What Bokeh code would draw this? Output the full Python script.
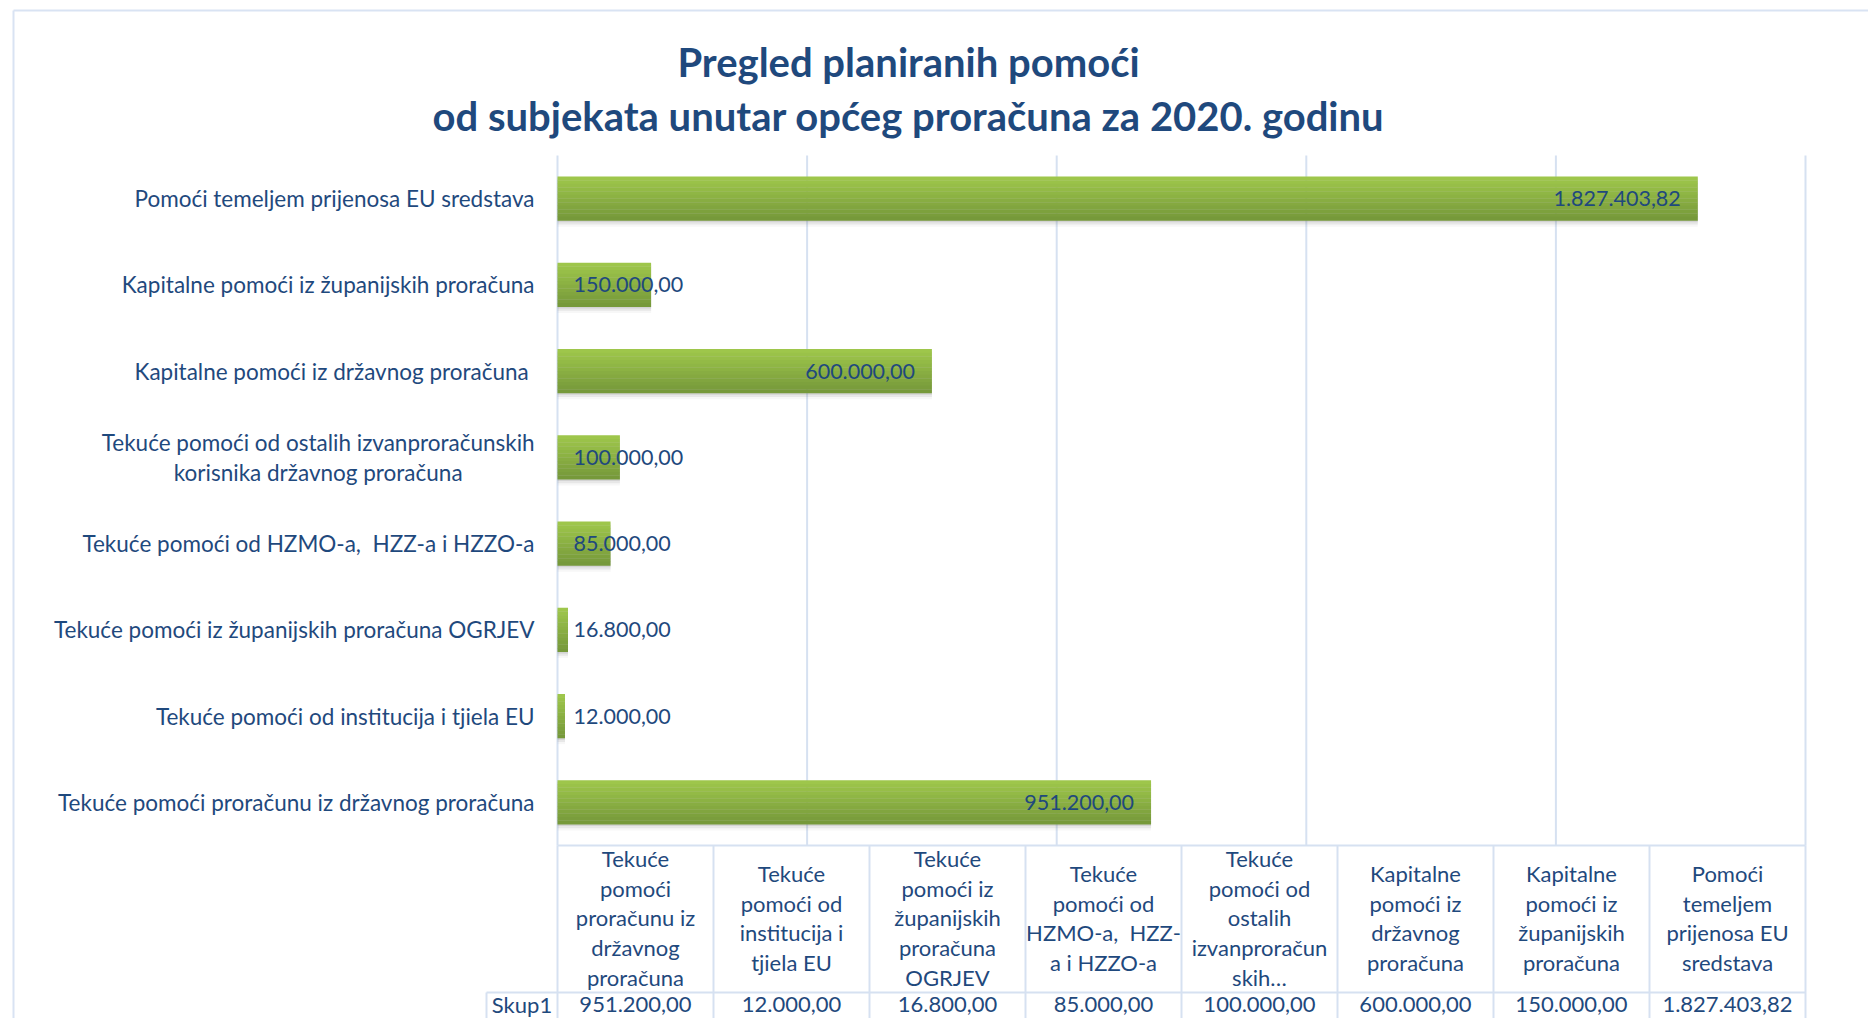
from bokeh.plotting import figure
from bokeh.models import Range1d
from bokeh.embed import file_html
from bokeh.resources import INLINE
from bokeh.core.properties import value

# ---------------- data ----------------
categories = [
    "Tekuće pomoći proračunu iz državnog proračuna",
    "Tekuće pomoći od institucija i tjiela EU",
    "Tekuće pomoći iz županijskih proračuna OGRJEV",
    "Tekuće pomoći od HZMO-a, \u00a0HZZ-a i HZZO-a",
    "Tekuće pomoći od ostalih izvanproračunskih\nkorisnika državnog proračuna",
    "Kapitalne pomoći iz državnog proračuna\u00a0",
    "Kapitalne pomoći iz županijskih proračuna",
    "Pomoći temeljem prijenosa EU sredstava",
]
values = [951200.00, 12000.00, 16800.00, 85000.00, 100000.00, 600000.00, 150000.00, 1827403.82]
header_labels = [
    "Tekuće\npomoći\nproračunu iz\ndržavnog\nproračuna",
    "Tekuće\npomoći od\ninstitucija i\ntjiela EU",
    "Tekuće\npomoći iz\nžupanijskih\nproračuna\nOGRJEV",
    "Tekuće\npomoći od\nHZMO-a, \u00a0HZZ-\na i HZZO-a",
    "Tekuće\npomoći od\nostalih\nizvanproračun\nskih…",
    "Kapitalne\npomoći iz\ndržavnog\nproračuna",
    "Kapitalne\npomoći iz\nžupanijskih\nproračuna",
    "Pomoći\ntemeljem\nprijenosa EU\nsredstava",
]
series_name = "Skup1"
x_ticks = [0, 400000, 800000, 1200000, 1600000, 2000000]
title_lines = ["Pregled planiranih pomoći",
               "od subjekata unutar općeg proračuna za 2020. godinu"]

# ---------------- layout / style ----------------
FONT = "Lato"
TXT = "#1F497D"
GRID = "#D6E1F1"
BORDER = "#D9E3F3"
X_MAX = 2000000
BAR_H = 0.51
W, H = 1868, 1018            # canvas (page) size in px
PL, PR = 557, 1805           # plot area left / right (px)
PT, PB = 155, 845            # plot area top / bottom (px)
HDR_B = 992                  # bottom of table header row (px)
SKUP_L = 486                 # left edge of the "Skup1" cell (px)
LABEL_R = 534                # right edge of category labels (px)
FS = "22.5px"
FS_HDR = "22px"
LH = 1.1

ncat = len(categories)
band = (PB - PT) / ncat
ppu = (PR - PL) / X_MAX      # px per value unit
col_w = (PR - PL) / ncat

p = figure(
    width=W, height=H,
    x_range=Range1d(-PL / ppu, (W - PL) / ppu),
    y_range=Range1d(-0.5 - (H - PB) / band, ncat - 0.5 + PT / band),
    min_border=0, toolbar_location=None, output_backend="svg",
)
p.extra_x_ranges = {"px": Range1d(0, W), "col": Range1d(-PL / col_w, (W - PL) / col_w)}
p.extra_y_ranges = {"px": Range1d(H, 0)}
p.axis.visible = False
p.grid.visible = False
p.outline_line_color = None
p.background_fill_color = "white"
p.border_fill_color = "white"

idx = list(range(ncat))

# chart-area border (top and left)
p.segment(x0=[13, 13], y0=[10, 10], x1=[W, 13], y1=[10, H],
          x_range_name="px", y_range_name="px", line_color=BORDER, line_width=2)

# vertical grid lines at the value ticks
p.segment(x0=x_ticks, x1=x_ticks, y0=[-0.5] * len(x_ticks), y1=[ncat - 0.5] * len(x_ticks),
          line_color=GRID, line_width=2)

# soft shadow under bars
for off, a in [(-0.02, 0.17), (-0.045, 0.11), (-0.07, 0.06)]:
    p.hbar(y=[i + off for i in idx], left=0, right=values, height=BAR_H,
           fill_color="#6f6f6f", fill_alpha=a, line_color=None)

# bars with vertical gradient (light top, darker bottom)
N = 12
top = (158, 198, 75)
bot = (118, 153, 58)
for k in range(N):
    t_ = k / (N - 1)
    c = tuple(int(round(top[i] + (bot[i] - top[i]) * t_)) for i in range(3))
    off = BAR_H / 2 - (k + 0.5) * BAR_H / N
    p.hbar(y=[i + off for i in idx], left=0, right=values,
           height=BAR_H / N * 1.08, fill_color="#%02x%02x%02x" % c, line_color=None)


def fmt(v):
    s = f"{v:,.2f}"
    return s.replace(",", "X").replace(".", ",").replace("X", ".")


labels = [fmt(v) for v in values]

# data labels: inside end if they fit, else at base
end_i = [i for i in idx if values[i] * ppu > len(labels[i]) * 11 + 40]
base_i = [i for i in idx if i not in end_i]
p.text(x=[values[i] for i in end_i], y=end_i, text=[labels[i] for i in end_i],
       text_align="right", text_baseline="middle", x_offset=-17,
       text_font=value(FONT), text_font_size="21.5px", text_color=TXT)
p.text(x=[0] * len(base_i), y=base_i, text=[labels[i] for i in base_i],
       text_align="left", text_baseline="middle", x_offset=16,
       text_font=value(FONT), text_font_size="21.5px", text_color=TXT)

# category labels
single = [i for i in idx if "\n" not in categories[i]]
multi = [i for i in idx if "\n" in categories[i]]
p.text(x=[LABEL_R] * len(single), y=single, text=[categories[i] for i in single],
       x_range_name="px", text_align="right", text_baseline="middle",
       text_font=value(FONT), text_font_size=FS, text_color=TXT)
char_w = 10.3
p.text(x=[LABEL_R - 0.5 * char_w * max(len(s) for s in categories[i].split("\n")) for i in multi],
       y=multi, text=[categories[i] for i in multi],
       x_range_name="px", text_align="center", text_baseline="middle", text_line_height=LH,
       text_font=value(FONT), text_font_size=FS, text_color=TXT)

# title
p.text(x=[908, 908], y=[61, 115], text=title_lines, x_range_name="px", y_range_name="px",
       text_align="center", text_baseline="middle", text_font=value(FONT),
       text_font_size="40px", text_font_style="bold", text_color=TXT)

# ---------------- data table ----------------
cols = list(range(ncat + 1))
p.segment(x0=cols, x1=cols, y0=[PB] * len(cols), y1=[H] * len(cols),
          x_range_name="col", y_range_name="px", line_color=GRID, line_width=2)
skup_x = (SKUP_L - PL) / col_w
p.segment(x0=[0, skup_x, skup_x], x1=[ncat, ncat, skup_x], y0=[PB, HDR_B, HDR_B],
          y1=[PB, HDR_B, H], x_range_name="col", y_range_name="px",
          line_color=GRID, line_width=2)

centers = [i + 0.5 for i in idx]
p.text(x=centers, y=[(PB + HDR_B) / 2 - 1] * ncat, text=header_labels,
       x_range_name="col", y_range_name="px",
       text_align="center", text_baseline="middle", text_line_height=LH,
       text_font=value(FONT), text_font_size=FS_HDR, text_color=TXT)
p.text(x=centers + [skup_x / 2], y=[HDR_B + 12] * (ncat + 1), text=labels + [series_name],
       x_range_name="col", y_range_name="px",
       text_align="center", text_baseline="middle",
       text_font=value(FONT), text_font_size=FS_HDR, text_color=TXT)

open("out.html", "w").write(file_html(p, INLINE))
